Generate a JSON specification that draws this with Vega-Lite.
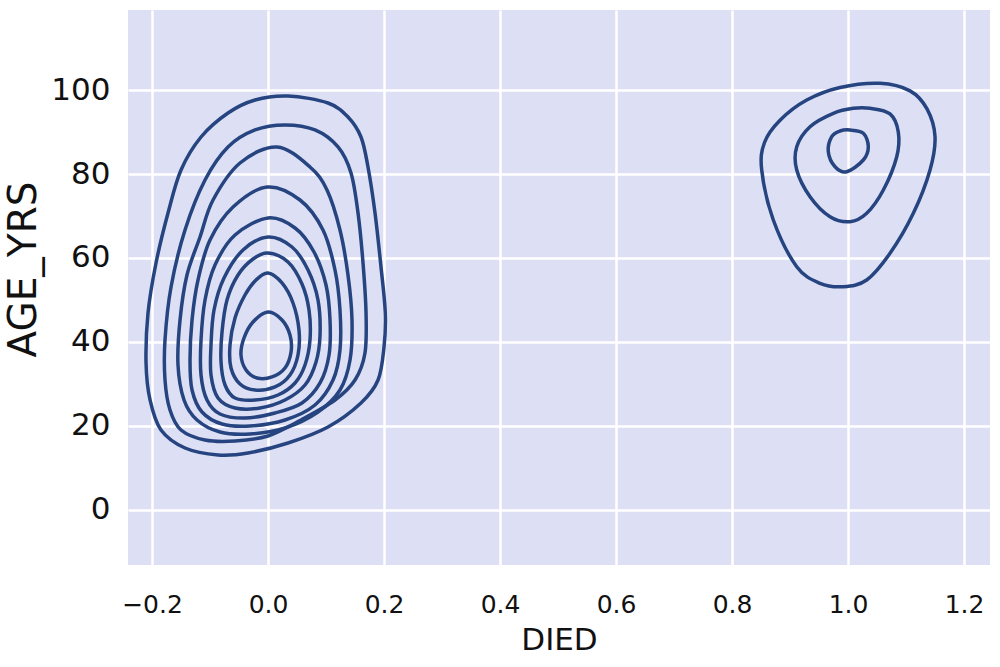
{
  "$schema": "https://vega.github.io/schema/vega-lite/v6.json",
  "width": 862,
  "height": 555,
  "autosize": {"type": "none"},
  "padding": {"left": 128, "top": 10, "right": 10, "bottom": 102},
  "background": "#ffffff",
  "config": {
    "view": {"stroke": null, "fill": "#dde0f5"},
    "font": "DejaVu Sans",
    "axis": {
      "domain": false,
      "ticks": false,
      "grid": true,
      "gridColor": "#ffffff",
      "gridWidth": 2.5,
      "gridOpacity": 1,
      "labelFont": "DejaVu Sans",
      "labelFontSize": 25,
      "labelColor": "#111111",
      "titleFont": "DejaVu Sans",
      "titleFontSize": 31,
      "titleFontWeight": "normal",
      "titleColor": "#111111"
    }
  },
  "data": {"values": [
    {"c":1,"i":0,"x":0.0345,"y":98.57},{"c":1,"i":1,"x":0.1034,"y":96.90},{"c":1,"i":2,"x":0.1379,"y":93.57},{"c":1,"i":3,"x":0.1603,"y":88.81},{"c":1,"i":4,"x":0.1724,"y":81.67},{"c":1,"i":5,"x":0.1845,"y":70.71},{"c":1,"i":6,"x":0.1948,"y":57.86},{"c":1,"i":7,"x":0.2022,"y":46.90},{"c":1,"i":8,"x":0.2,"y":38.81},{"c":1,"i":9,"x":0.1897,"y":30.95},{"c":1,"i":10,"x":0.1603,"y":25.48},{"c":1,"i":11,"x":0.1034,"y":19.76},{"c":1,"i":12,"x":0.0345,"y":15.95},{"c":1,"i":13,"x":-0.0345,"y":13.57},{"c":1,"i":14,"x":-0.0862,"y":13.10},{"c":1,"i":15,"x":-0.1431,"y":14.76},{"c":1,"i":16,"x":-0.1845,"y":19.05},{"c":1,"i":17,"x":-0.2034,"y":26.19},{"c":1,"i":18,"x":-0.2103,"y":35.0},{"c":1,"i":19,"x":-0.2069,"y":46.90},{"c":1,"i":20,"x":-0.1931,"y":58.81},{"c":1,"i":21,"x":-0.1724,"y":70.71},{"c":1,"i":22,"x":-0.15,"y":80.95},{"c":1,"i":23,"x":-0.1155,"y":88.81},{"c":1,"i":24,"x":-0.069,"y":94.52},{"c":1,"i":25,"x":-0.0224,"y":97.62},
    {"c":2,"i":0,"x":0.0293,"y":91.67},{"c":2,"i":1,"x":0.081,"y":90.48},{"c":2,"i":2,"x":0.1207,"y":86.43},{"c":2,"i":3,"x":0.1431,"y":80.24},{"c":2,"i":4,"x":0.1552,"y":70.71},{"c":2,"i":5,"x":0.1638,"y":58.81},{"c":2,"i":6,"x":0.169,"y":46.90},{"c":2,"i":7,"x":0.1672,"y":37.38},{"c":2,"i":8,"x":0.15,"y":30.95},{"c":2,"i":9,"x":0.1155,"y":26.19},{"c":2,"i":10,"x":0.0569,"y":21.43},{"c":2,"i":11,"x":0.0,"y":17.62},{"c":2,"i":12,"x":-0.0569,"y":16.43},{"c":2,"i":13,"x":-0.1086,"y":16.67},{"c":2,"i":14,"x":-0.15,"y":19.05},{"c":2,"i":15,"x":-0.169,"y":23.81},{"c":2,"i":16,"x":-0.1776,"y":30.95},{"c":2,"i":17,"x":-0.1776,"y":40.48},{"c":2,"i":18,"x":-0.1672,"y":53.10},{"c":2,"i":19,"x":-0.1431,"y":66.67},{"c":2,"i":20,"x":-0.1086,"y":78.57},{"c":2,"i":21,"x":-0.069,"y":86.43},{"c":2,"i":22,"x":-0.0224,"y":90.48},
    {"c":3,"i":0,"x":0.0155,"y":86.43},{"c":3,"i":1,"x":0.0724,"y":81.67},{"c":3,"i":2,"x":0.1017,"y":76.19},{"c":3,"i":3,"x":0.1241,"y":66.67},{"c":3,"i":4,"x":0.1379,"y":55.95},{"c":3,"i":5,"x":0.1448,"y":45.24},{"c":3,"i":6,"x":0.1414,"y":35.71},{"c":3,"i":7,"x":0.1241,"y":28.57},{"c":3,"i":8,"x":0.0862,"y":23.33},{"c":3,"i":9,"x":0.0293,"y":19.52},{"c":3,"i":10,"x":-0.031,"y":18.10},{"c":3,"i":11,"x":-0.0828,"y":18.57},{"c":3,"i":12,"x":-0.1224,"y":21.43},{"c":3,"i":13,"x":-0.1448,"y":26.19},{"c":3,"i":14,"x":-0.1552,"y":34.52},{"c":3,"i":15,"x":-0.1517,"y":45.24},{"c":3,"i":16,"x":-0.1397,"y":55.95},{"c":3,"i":17,"x":-0.1172,"y":65.0},{"c":3,"i":18,"x":-0.0948,"y":73.81},{"c":3,"i":19,"x":-0.0483,"y":82.62},
    {"c":4,"i":0,"x":-0.0017,"y":76.90},{"c":4,"i":1,"x":0.0552,"y":73.81},{"c":4,"i":2,"x":0.0948,"y":66.67},{"c":4,"i":3,"x":0.1155,"y":57.14},{"c":4,"i":4,"x":0.1241,"y":47.62},{"c":4,"i":5,"x":0.1241,"y":38.10},{"c":4,"i":6,"x":0.1121,"y":30.95},{"c":4,"i":7,"x":0.081,"y":25.0},{"c":4,"i":8,"x":0.0293,"y":21.43},{"c":4,"i":9,"x":-0.031,"y":20.0},{"c":4,"i":10,"x":-0.0793,"y":20.48},{"c":4,"i":11,"x":-0.1138,"y":23.33},{"c":4,"i":12,"x":-0.131,"y":28.57},{"c":4,"i":13,"x":-0.1345,"y":35.71},{"c":4,"i":14,"x":-0.131,"y":45.24},{"c":4,"i":15,"x":-0.1207,"y":54.76},{"c":4,"i":16,"x":-0.1,"y":64.29},{"c":4,"i":17,"x":-0.0603,"y":72.14},
    {"c":5,"i":0,"x":0.0,"y":69.52},{"c":5,"i":1,"x":0.0466,"y":67.14},{"c":5,"i":2,"x":0.0793,"y":61.43},{"c":5,"i":3,"x":0.1,"y":53.57},{"c":5,"i":4,"x":0.1069,"y":45.24},{"c":5,"i":5,"x":0.1052,"y":36.90},{"c":5,"i":6,"x":0.0897,"y":30.24},{"c":5,"i":7,"x":0.0586,"y":25.48},{"c":5,"i":8,"x":0.0121,"y":23.10},{"c":5,"i":9,"x":-0.0397,"y":21.90},{"c":5,"i":10,"x":-0.0828,"y":22.86},{"c":5,"i":11,"x":-0.1052,"y":26.19},{"c":5,"i":12,"x":-0.1155,"y":32.14},{"c":5,"i":13,"x":-0.1155,"y":40.48},{"c":5,"i":14,"x":-0.1086,"y":50.0},{"c":5,"i":15,"x":-0.0914,"y":58.33},{"c":5,"i":16,"x":-0.0569,"y":65.48},
    {"c":6,"i":0,"x":0.0,"y":65.0},{"c":6,"i":1,"x":0.0414,"y":62.62},{"c":6,"i":2,"x":0.069,"y":57.14},{"c":6,"i":3,"x":0.0862,"y":50.0},{"c":6,"i":4,"x":0.0897,"y":41.67},{"c":6,"i":5,"x":0.0828,"y":35.24},{"c":6,"i":6,"x":0.0638,"y":29.76},{"c":6,"i":7,"x":0.0293,"y":26.19},{"c":6,"i":8,"x":-0.0138,"y":24.29},{"c":6,"i":9,"x":-0.0569,"y":24.29},{"c":6,"i":10,"x":-0.0862,"y":26.67},{"c":6,"i":11,"x":-0.0983,"y":32.14},{"c":6,"i":12,"x":-0.0983,"y":39.29},{"c":6,"i":13,"x":-0.0931,"y":47.62},{"c":6,"i":14,"x":-0.0759,"y":55.24},{"c":6,"i":15,"x":-0.0431,"y":61.90},
    {"c":7,"i":0,"x":0.0,"y":61.19},{"c":7,"i":1,"x":0.0345,"y":59.05},{"c":7,"i":2,"x":0.0586,"y":53.81},{"c":7,"i":3,"x":0.0707,"y":47.62},{"c":7,"i":4,"x":0.0724,"y":40.48},{"c":7,"i":5,"x":0.0638,"y":34.52},{"c":7,"i":6,"x":0.0466,"y":30.24},{"c":7,"i":7,"x":0.0172,"y":27.38},{"c":7,"i":8,"x":-0.0224,"y":26.19},{"c":7,"i":9,"x":-0.0569,"y":26.67},{"c":7,"i":10,"x":-0.0741,"y":29.76},{"c":7,"i":11,"x":-0.081,"y":35.24},{"c":7,"i":12,"x":-0.0793,"y":42.38},{"c":7,"i":13,"x":-0.0707,"y":50.0},{"c":7,"i":14,"x":-0.0517,"y":55.95},{"c":7,"i":15,"x":-0.0259,"y":59.76},
    {"c":8,"i":0,"x":0.0,"y":56.43},{"c":8,"i":1,"x":0.0241,"y":54.05},{"c":8,"i":2,"x":0.0431,"y":49.29},{"c":8,"i":3,"x":0.0534,"y":42.86},{"c":8,"i":4,"x":0.0517,"y":36.90},{"c":8,"i":5,"x":0.0379,"y":32.14},{"c":8,"i":6,"x":0.0121,"y":29.29},{"c":8,"i":7,"x":-0.0224,"y":28.57},{"c":8,"i":8,"x":-0.0483,"y":30.0},{"c":8,"i":9,"x":-0.0638,"y":33.81},{"c":8,"i":10,"x":-0.0655,"y":39.29},{"c":8,"i":11,"x":-0.0569,"y":45.71},{"c":8,"i":12,"x":-0.0397,"y":51.19},{"c":8,"i":13,"x":-0.0207,"y":54.76},
    {"c":9,"i":0,"x":0.0,"y":47.14},{"c":9,"i":1,"x":0.0241,"y":45.24},{"c":9,"i":2,"x":0.0379,"y":41.67},{"c":9,"i":3,"x":0.0397,"y":37.62},{"c":9,"i":4,"x":0.0293,"y":33.81},{"c":9,"i":5,"x":0.0069,"y":31.67},{"c":9,"i":6,"x":-0.019,"y":31.43},{"c":9,"i":7,"x":-0.0379,"y":33.33},{"c":9,"i":8,"x":-0.0466,"y":36.90},{"c":9,"i":9,"x":-0.0414,"y":40.95},{"c":9,"i":10,"x":-0.0259,"y":44.76},
    {"c":11,"i":0,"x":1.0552,"y":101.6},{"c":11,"i":1,"x":1.1069,"y":99.8},{"c":11,"i":2,"x":1.1362,"y":95.5},{"c":11,"i":3,"x":1.15,"y":88.88},{"c":11,"i":4,"x":1.1414,"y":80.95},{"c":11,"i":5,"x":1.1126,"y":70.64},{"c":11,"i":6,"x":1.0724,"y":61.12},{"c":11,"i":7,"x":1.0322,"y":54.76},{"c":11,"i":8,"x":0.9919,"y":53.17},{"c":11,"i":9,"x":0.9517,"y":53.98},{"c":11,"i":10,"x":0.9116,"y":57.93},{"c":11,"i":11,"x":0.8712,"y":69.05},{"c":11,"i":12,"x":0.8512,"y":80.95},{"c":11,"i":13,"x":0.856,"y":87.5},{"c":11,"i":14,"x":0.8828,"y":92.8},{"c":11,"i":15,"x":0.9288,"y":97.6},{"c":11,"i":16,"x":0.9862,"y":100.6},
    {"c":12,"i":0,"x":1.0379,"y":95.64},{"c":12,"i":1,"x":1.0724,"y":94.3},{"c":12,"i":2,"x":1.0867,"y":90.0},{"c":12,"i":3,"x":1.084,"y":84.12},{"c":12,"i":4,"x":1.0609,"y":76.19},{"c":12,"i":5,"x":1.0322,"y":70.64},{"c":12,"i":6,"x":1.0034,"y":68.64},{"c":12,"i":7,"x":0.969,"y":69.83},{"c":12,"i":8,"x":0.9345,"y":74.60},{"c":12,"i":9,"x":0.9116,"y":80.95},{"c":12,"i":10,"x":0.9116,"y":86.50},{"c":12,"i":11,"x":0.9345,"y":91.26},{"c":12,"i":12,"x":0.9747,"y":94.45},{"c":12,"i":13,"x":1.0091,"y":95.64},
    {"c":13,"i":0,"x":1.0034,"y":90.48},{"c":13,"i":1,"x":1.0264,"y":89.69},{"c":13,"i":2,"x":1.035,"y":86.50},{"c":13,"i":3,"x":1.0264,"y":83.33},{"c":13,"i":4,"x":0.9978,"y":80.55},{"c":13,"i":5,"x":0.9776,"y":81.74},{"c":13,"i":6,"x":0.966,"y":85.31},{"c":13,"i":7,"x":0.9719,"y":88.88},{"c":13,"i":8,"x":0.9862,"y":90.24}
  ]},
  "mark": {"type": "line", "interpolate": "cardinal-closed", "tension": 0, "color": "#26447f", "strokeWidth": 3.5},
  "encoding": {
    "x": {
      "field": "x", "type": "quantitative", "title": "DIED",
      "scale": {"domain": [-0.2414, 1.2448], "nice": false, "zero": false},
      "axis": {"values": [-0.2, 0, 0.2, 0.4, 0.6, 0.8, 1.0, 1.2], "format": ".1f", "labelPadding": 27, "titlePadding": 8}
    },
    "y": {
      "field": "y", "type": "quantitative", "title": "AGE_YRS",
      "scale": {"domain": [-13.1, 119.05], "nice": false, "zero": false},
      "axis": {"values": [0, 20, 40, 60, 80, 100], "format": "d", "labelPadding": 18, "labelFontSize": 31, "titleFontSize": 39, "titleX": -93, "titleY": 259, "titleAngle": -90, "titleBaseline": "alphabetic", "titleAlign": "center"}
    },
    "detail": {"field": "c", "type": "nominal"},
    "order": {"field": "i", "type": "quantitative"}
  }
}
